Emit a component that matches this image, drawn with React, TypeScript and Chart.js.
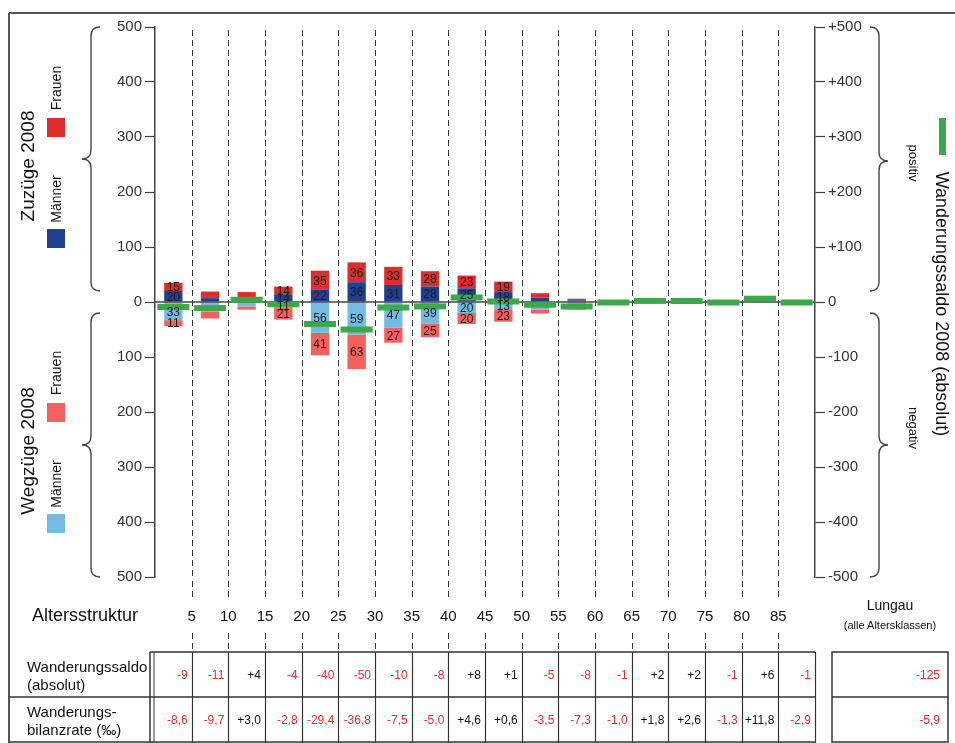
import React, { useEffect, useRef } from "react";
import { Chart, registerables } from "chart.js";

Chart.register(...registerables);

// ---------------- data ----------------
const ageCategories = [
  "0–4", "5–9", "10–14", "15–19", "20–24", "25–29", "30–34", "35–39", "40–44",
  "45–49", "50–54", "55–59", "60–64", "65–69", "70–74", "75–79", "80–84", "85+",
];
const ageTickLabels = ["5", "10", "15", "20", "25", "30", "35", "40", "45", "50", "55", "60", "65", "70", "75", "80", "85"];

const zuzuegeMaenner = [20, 7, 8, 14, 22, 36, 31, 28, 25, 18, 8, 3, 1, 2, 1, 1, 2, 1];
const zuzuegeFrauen = [15, 12, 10, 14, 35, 36, 33, 28, 23, 19, 8, 3, 2, 2, 2, 1, 5, 1];
const wegzuegeMaenner = [33, 18, 8, 11, 56, 59, 47, 39, 20, 13, 14, 8, 2, 1, 1, 1, 1, 1];
const wegzuegeFrauen = [11, 12, 6, 21, 41, 63, 27, 25, 20, 23, 7, 6, 2, 1, 0, 2, 0, 2];

const wanderungssaldo = [-9, -11, 4, -4, -40, -50, -10, -8, 8, 1, -5, -8, -1, 2, 2, -1, 6, -1];
const bilanzrate = [-8.6, -9.7, 3.0, -2.8, -29.4, -36.8, -7.5, -5.0, 4.6, 0.6, -3.5, -7.3, -1.0, 1.8, 2.6, -1.3, 11.8, -2.9];

const labeledCategories = [0, 3, 4, 5, 6, 7, 8, 9];

const lungauSaldo = -125;
const lungauRate = -5.9;

// ---------------- styling ----------------
const FONT = "'Liberation Sans', Arial, Helvetica, sans-serif";
const W = 955;
const H = 743;
const CANVAS_H = 655;
const PLOT_LEFT = 155;
const PLOT_RIGHT = 815;
const PLOT_TOP = 27;
const PLOT_BOTTOM = 577;
const COL_W = (PLOT_RIGHT - PLOT_LEFT) / ageCategories.length;

const C_ZU_F = "#dd2d2c";
const C_ZU_M = "#21408f";
const C_WEG_F = "#f2615f";
const C_WEG_M = "#74bbe3";
const C_GREEN = "#3ca84b";
const C_NEG = "#e0302d";
const C_LINE = "#444";

const fmtSaldo = (v: number) => (v > 0 ? "+" + v : String(v));
const fmtRate = (v: number) => (v > 0 ? "+" : v < 0 ? "-" : "") + Math.abs(v).toFixed(1).replace(".", ",");

const decorPlugin = {
  id: "decor",
  beforeDatasetsDraw(chart: any) {
    const { ctx, chartArea } = chart;
    const x = chart.scales.x;
    ctx.save();
    ctx.strokeStyle = "#333";
    ctx.lineWidth = 1;
    ctx.setLineDash([6, 4]);
    for (let i = 1; i < ageCategories.length; i++) {
      const px = Math.round((x.getPixelForValue(i - 1) + x.getPixelForValue(i)) / 2) + 0.5;
      ctx.beginPath();
      ctx.moveTo(px, chartArea.top + 3);
      ctx.lineTo(px, chartArea.bottom);
      ctx.moveTo(px, chartArea.bottom + 4);
      ctx.lineTo(px, chartArea.bottom + 22);
      ctx.moveTo(px, chartArea.bottom + 56);
      ctx.lineTo(px, CANVAS_H);
      ctx.stroke();
    }
    ctx.restore();
  },
  beforeDatasetDraw(chart: any, args: any) {
    if (args.index !== 0) return;
    const { ctx, chartArea } = chart;
    const y0 = chart.scales.y.getPixelForValue(0);
    ctx.save();
    ctx.strokeStyle = C_LINE;
    ctx.lineWidth = 1.5;
    ctx.beginPath();
    ctx.moveTo(chartArea.left, y0);
    ctx.lineTo(chartArea.right, y0);
    ctx.stroke();
    ctx.restore();
  },
};

const labelPlugin = {
  id: "segLabels",
  afterDatasetsDraw(chart: any) {
    const { ctx } = chart;
    ctx.save();
    ctx.font = `12px ${FONT}`;
    ctx.textAlign = "center";
    ctx.textBaseline = "middle";
    ctx.fillStyle = "#1c1c1c";
    for (let d = 1; d <= 4; d++) {
      const meta = chart.getDatasetMeta(d);
      const values = chart.data.datasets[d].data as number[];
      labeledCategories.forEach((i) => {
        const v = Math.abs(values[i]);
        const el: any = meta.data[i];
        if (!el || !v) return;
        ctx.fillText(String(v), el.x, (el.y + el.base) / 2 + 1);
      });
    }
    ctx.restore();
  },
};

function RotText(props: { x: number; y: number; angle: number; size: number; text: string; color?: string }) {
  return (
    <div
      style={{
        position: "absolute",
        left: props.x,
        top: props.y,
        transform: `translate(-50%, -50%) rotate(${props.angle}deg)`,
        whiteSpace: "nowrap",
        fontSize: props.size,
        fontFamily: FONT,
        color: props.color || "#111",
        lineHeight: 1,
      }}
    >
      {props.text}
    </div>
  );
}

function Square(props: { x: number; y: number; w: number; h: number; color: string }) {
  return (
    <div style={{ position: "absolute", left: props.x, top: props.y, width: props.w, height: props.h, background: props.color }} />
  );
}

function bracePath(xLine: number, y1: number, y2: number, ym: number, dir: number, r: number) {
  // dir = -1: point to the left ("{"), dir = +1: point to the right ("}")
  const c = -dir * r;
  const p = dir * r;
  return [
    `M ${xLine + c} ${y1}`,
    `Q ${xLine} ${y1} ${xLine} ${y1 + r}`,
    `L ${xLine} ${ym - r}`,
    `Q ${xLine} ${ym} ${xLine + p} ${ym}`,
    `Q ${xLine} ${ym} ${xLine} ${ym + r}`,
    `L ${xLine} ${y2 - r}`,
    `Q ${xLine} ${y2} ${xLine + c} ${y2}`,
  ].join(" ");
}

function Cell(props: { left: number; top: number; width: number; height: number; text: string; color: string; size?: number }) {
  return (
    <div
      style={{
        position: "absolute",
        left: props.left,
        top: props.top,
        width: props.width,
        height: props.height,
        display: "flex",
        alignItems: "center",
        justifyContent: "flex-end",
        paddingRight: 4,
        boxSizing: "border-box",
        fontSize: props.size || 12,
        fontFamily: FONT,
        color: props.color,
        whiteSpace: "nowrap",
      }}
    >
      {props.text}
    </div>
  );
}

export default function App() {
  const ref = useRef<HTMLCanvasElement>(null);

  useEffect(() => {
    const canvas = ref.current;
    if (!canvas) return;
    const tickFont = { size: 15, family: FONT };
    const chart = new Chart(canvas, {
      type: "bar",
      data: {
        labels: ageCategories,
        datasets: [
          {
            type: "line",
            label: "Wanderungssaldo 2008 (absolut)",
            data: wanderungssaldo,
            yAxisID: "y2",
            showLine: false,
            pointStyle: "line",
            pointRadius: 16,
            pointHoverRadius: 16,
            pointBorderWidth: 6,
            borderWidth: 6,
            borderColor: C_GREEN,
            backgroundColor: C_GREEN,
            order: 0,
          } as any,
          { label: "Zuzüge Männer", data: zuzuegeMaenner, backgroundColor: C_ZU_M, stack: "s", yAxisID: "y", order: 1 },
          { label: "Zuzüge Frauen", data: zuzuegeFrauen, backgroundColor: C_ZU_F, stack: "s", yAxisID: "y", order: 1 },
          { label: "Wegzüge Männer", data: wegzuegeMaenner.map((v) => -v), backgroundColor: C_WEG_M, stack: "s", yAxisID: "y", order: 1 },
          { label: "Wegzüge Frauen", data: wegzuegeFrauen.map((v) => -v), backgroundColor: C_WEG_F, stack: "s", yAxisID: "y", order: 1 },
        ],
      },
      options: {
        animation: false,
        responsive: false,
        layout: { padding: { left: 0, right: 0, top: PLOT_TOP, bottom: CANVAS_H - PLOT_BOTTOM } },
        plugins: { legend: { display: false }, tooltip: { enabled: false } },
        datasets: { bar: { categoryPercentage: 1, barPercentage: 0.5 } } as any,
        scales: {
          x: { display: false, stacked: true },
          y: {
            position: "left",
            stacked: true,
            min: -500,
            max: 500,
            ticks: {
              stepSize: 100,
              callback: (v: any) => String(Math.abs(Number(v))),
              color: "#333",
              font: tickFont,
              padding: 3,
            },
            grid: { drawOnChartArea: false, drawTicks: true, tickLength: 10, tickColor: C_LINE, tickWidth: 1.2 },
            border: { color: C_LINE, width: 1.5 },
            afterFit: (s: any) => {
              s.width = PLOT_LEFT;
            },
          },
          y2: {
            position: "right",
            min: -500,
            max: 500,
            ticks: {
              stepSize: 100,
              callback: (v: any) => fmtSaldo(Number(v)),
              color: "#333",
              font: tickFont,
              padding: 3,
            },
            grid: { drawOnChartArea: false, drawTicks: true, tickLength: 10, tickColor: C_LINE, tickWidth: 1.2 },
            border: { color: C_LINE, width: 1.5 },
            afterFit: (s: any) => {
              s.width = W - PLOT_RIGHT;
            },
          },
        },
      },
      plugins: [decorPlugin, labelPlugin],
    });
    return () => chart.destroy();
  }, []);

  const TABLE_TOP = 652;
  const ROW_MID = 697;
  const TABLE_BOTTOM = 742;
  const LUNGAU_L = 832;
  const LUNGAU_R = 948;

  return (
    <div
      style={{
        position: "absolute",
        left: 0,
        top: 0,
        width: W,
        height: H,
        background: "#fff",
        overflow: "hidden",
        fontFamily: FONT,
      }}
    >
      <canvas ref={ref} width={W} height={CANVAS_H} style={{ position: "absolute", left: 0, top: 0, width: W, height: CANVAS_H }} />

      <svg width={W} height={H} style={{ position: "absolute", left: 0, top: 0, pointerEvents: "none" }}>
        {/* frame */}
        <line x1={9} y1={13} x2={W} y2={13} stroke="#555" strokeWidth={2} />
        <line x1={9} y1={13} x2={9} y2={H} stroke="#555" strokeWidth={2} />
        {/* braces */}
        <path d={bracePath(91, 27, 291, 159, -1, 9)} fill="none" stroke={C_LINE} strokeWidth={1.4} />
        <path d={bracePath(91, 313, 577, 445, -1, 9)} fill="none" stroke={C_LINE} strokeWidth={1.4} />
        <path d={bracePath(879, 27, 291, 161, 1, 9)} fill="none" stroke={C_LINE} strokeWidth={1.4} />
        <path d={bracePath(879, 313, 577, 445, 1, 9)} fill="none" stroke={C_LINE} strokeWidth={1.4} />
        {/* table */}
        <line x1={150} y1={TABLE_TOP} x2={PLOT_RIGHT} y2={TABLE_TOP} stroke="#333" strokeWidth={1.5} />
        <line x1={9} y1={ROW_MID} x2={PLOT_RIGHT} y2={ROW_MID} stroke="#333" strokeWidth={1.5} />
        <line x1={9} y1={TABLE_BOTTOM} x2={PLOT_RIGHT} y2={TABLE_BOTTOM} stroke="#333" strokeWidth={1.5} />
        <line x1={150} y1={TABLE_TOP} x2={150} y2={H} stroke="#333" strokeWidth={1.5} />
        <line x1={154} y1={TABLE_TOP} x2={154} y2={H} stroke="#333" strokeWidth={1} />
        {ageCategories.map((_, i) => {
          const x = Math.round(PLOT_LEFT + (i + 1) * COL_W) + 0.5;
          return <line key={i} x1={x} y1={TABLE_TOP} x2={x} y2={H} stroke="#333" strokeWidth={1.2} />;
        })}
        <rect x={LUNGAU_L} y={TABLE_TOP} width={LUNGAU_R - LUNGAU_L} height={TABLE_BOTTOM - TABLE_TOP} fill="none" stroke="#333" strokeWidth={1.5} />
        <line x1={LUNGAU_L} y1={ROW_MID} x2={LUNGAU_R} y2={ROW_MID} stroke="#333" strokeWidth={1.5} />
      </svg>

      {/* left legend / titles */}
      <RotText x={27} y={166} angle={-90} size={19} text="Zuzüge 2008" />
      <RotText x={56} y={88} angle={-90} size={14} text="Frauen" />
      <Square x={47} y={118} w={18} h={19} color={C_ZU_F} />
      <RotText x={56} y={199} angle={-90} size={14} text="Männer" />
      <Square x={47} y={229} w={18} h={19} color={C_ZU_M} />

      <RotText x={27} y={451} angle={-90} size={19} text="Wegzüge 2008" />
      <RotText x={56} y={373} angle={-90} size={14} text="Frauen" />
      <Square x={47} y={403} w={18} h={19} color={C_WEG_F} />
      <RotText x={56} y={484} angle={-90} size={14} text="Männer" />
      <Square x={47} y={514} w={18} h={19} color={C_WEG_M} />

      {/* right legend / titles */}
      <RotText x={913} y={163} angle={90} size={13} text="positiv" />
      <RotText x={913} y={428} angle={90} size={13} text="negativ" />
      <Square x={939} y={118} w={7} h={37} color={C_GREEN} />
      <RotText x={942} y={304} angle={90} size={18} text="Wanderungssaldo 2008 (absolut)" />

      {/* age axis labels */}
      <div style={{ position: "absolute", left: 32, top: 604, fontSize: 18, lineHeight: "22px", color: "#111" }}>Altersstruktur</div>
      {ageTickLabels.map((t, i) => (
        <div
          key={t}
          style={{
            position: "absolute",
            left: PLOT_LEFT + (i + 1) * COL_W,
            top: 615,
            transform: "translate(-50%, -50%)",
            fontSize: 15,
            lineHeight: 1,
            color: "#111",
          }}
        >
          {t}
        </div>
      ))}
      <div style={{ position: "absolute", left: 890, top: 605, transform: "translate(-50%, -50%)", fontSize: 14, color: "#111", whiteSpace: "nowrap" }}>Lungau</div>
      <div style={{ position: "absolute", left: 890, top: 625, transform: "translate(-50%, -50%)", fontSize: 11, color: "#111", whiteSpace: "nowrap" }}>
        (alle Altersklassen)
      </div>

      {/* table row labels */}
      <div style={{ position: "absolute", left: 27, top: 658, fontSize: 15, lineHeight: "18px", color: "#111" }}>
        Wanderungssaldo
        <br />
        (absolut)
      </div>
      <div style={{ position: "absolute", left: 27, top: 703, fontSize: 15, lineHeight: "18px", color: "#111" }}>
        Wanderungs-
        <br />
        bilanzrate (‰)
      </div>

      {/* table values */}
      {wanderungssaldo.map((v, i) => (
        <Cell key={"s" + i} left={PLOT_LEFT + i * COL_W} top={TABLE_TOP} width={COL_W} height={ROW_MID - TABLE_TOP} text={fmtSaldo(v)} color={v < 0 ? C_NEG : "#111"} />
      ))}
      {bilanzrate.map((v, i) => (
        <Cell key={"r" + i} left={PLOT_LEFT + i * COL_W} top={ROW_MID} width={COL_W} height={TABLE_BOTTOM - ROW_MID} text={fmtRate(v)} color={v < 0 ? C_NEG : "#111"} />
      ))}
      <Cell left={LUNGAU_L} top={TABLE_TOP} width={LUNGAU_R - LUNGAU_L - 4} height={ROW_MID - TABLE_TOP} text={fmtSaldo(lungauSaldo)} color={C_NEG} />
      <Cell left={LUNGAU_L} top={ROW_MID} width={LUNGAU_R - LUNGAU_L - 4} height={TABLE_BOTTOM - ROW_MID} text={fmtRate(lungauRate)} color={C_NEG} />
    </div>
  );
}
